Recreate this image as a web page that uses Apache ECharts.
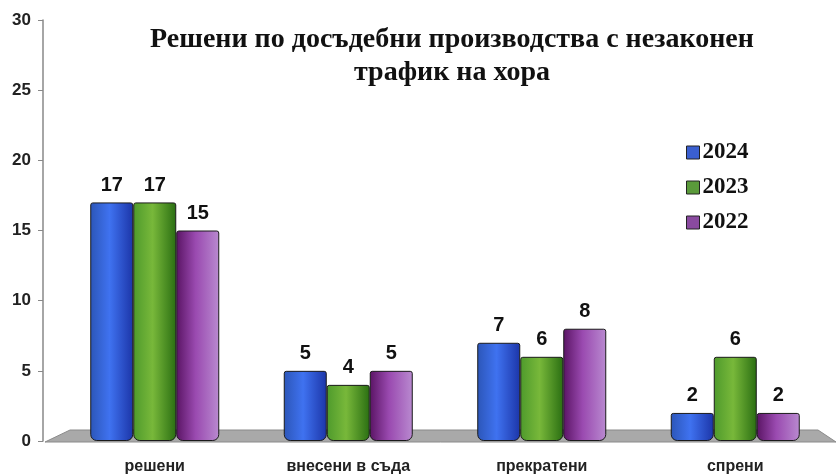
<!DOCTYPE html>
<html>
<head>
<meta charset="utf-8">
<script src="https://cdn.jsdelivr.net/npm/echarts@6/dist/echarts.min.js"></script>
<style>
  html, body { margin: 0; padding: 0; background: #fff; }
  #chart { width: 837px; height: 476px; }
</style>
</head>
<body>
<div id="chart"></div>
<script>
// данни
const categories = ['решени', 'внесени в съда', 'прекратени', 'спрени'];
const years = ['2024', '2023', '2022'];
const values2024 = [17, 5, 7, 2];
const values2023 = [17, 4, 6, 6];
const values2022 = [15, 5, 8, 2];

function cyl(a, b, c) {
    return new echarts.graphic.LinearGradient(0, 0, 1, 0, [
        { offset: 0, color: a },
        { offset: 0.45, color: b },
        { offset: 1, color: c }
    ]);
}

const styles = [
    { grad: cyl('#2c56b8', '#3f72f0', '#1c35a8'), flat: '#3a5fd0' },
    { grad: cyl('#4e9a2c', '#78b83a', '#2a6e12'), flat: '#5a9a3a' },
    { grad: cyl('#5a1464', '#9a4ab0', '#b98ad0'), flat: '#8a4aa0' }
];
const seriesData = [values2024, values2023, values2022];

const chart = echarts.init(document.getElementById('chart'));
chart.setOption({
    animation: false,
    title: {
        text: 'Решени по досъдебни производства с незаконен\nтрафик на хора',
        left: 447,
        top: 18,
        textAlign: 'center',
        textStyle: {
            fontFamily: 'Liberation Serif',
            fontWeight: 'bold',
            fontSize: 28,
            lineHeight: 33,
            color: '#111'
        }
    },
    legend: {
        orient: 'vertical',
        left: 681,
        top: 136,
        itemGap: 12,
        itemWidth: 13,
        itemHeight: 13,
        icon: 'rect',
        data: years.map((y, i) => ({
            name: y,
            itemStyle: { color: styles[i].flat, borderColor: '#222', borderWidth: 1 }
        })),
        textStyle: {
            fontFamily: 'Liberation Serif',
            fontWeight: 'bold',
            fontSize: 23,
            color: '#111',
            padding: [0, 0, 0, -2]
        }
    },
    graphic: [{
        type: 'polygon',
        z: 0,
        shape: { points: [[45, 442], [70, 430], [818, 430], [836, 442]] },
        style: { fill: '#a9a9a9', stroke: '#8a8a8a', lineWidth: 1 }
    }],
    grid: { left: 58, right: 5, top: 20, bottom: 35 },
    xAxis: {
        type: 'category',
        data: categories,
        axisLine: { show: false },
        axisTick: { show: false },
        axisLabel: {
            margin: 18,
            fontFamily: 'Liberation Sans',
            fontWeight: 'bold',
            fontSize: 16,
            color: '#222'
        }
    },
    yAxis: {
        type: 'value',
        min: 0,
        max: 30,
        interval: 5,
        offset: 15,
        axisLine: { show: true, lineStyle: { color: '#888', width: 1.5 } },
        axisTick: { show: true, length: 5, lineStyle: { color: '#888' } },
        splitLine: { show: false },
        axisLabel: {
            margin: 12,
            fontFamily: 'Liberation Sans',
            fontWeight: 'bold',
            fontSize: 17,
            color: '#222'
        }
    },
    series: years.map((y, i) => ({
        name: y,
        type: 'bar',
        z: 2,
        barWidth: 43,
        barGap: '0%',
        data: seriesData[i],
        itemStyle: {
            color: styles[i].grad,
            borderColor: '#1a1a1a',
            borderWidth: 1,
            borderRadius: [2, 2, 6, 6]
        },
        label: {
            show: true,
            position: 'top',
            distance: 7,
            fontFamily: 'Liberation Sans',
            fontWeight: 'bold',
            fontSize: 20,
            color: '#111'
        }
    }))
});
</script>
</body>
</html>
